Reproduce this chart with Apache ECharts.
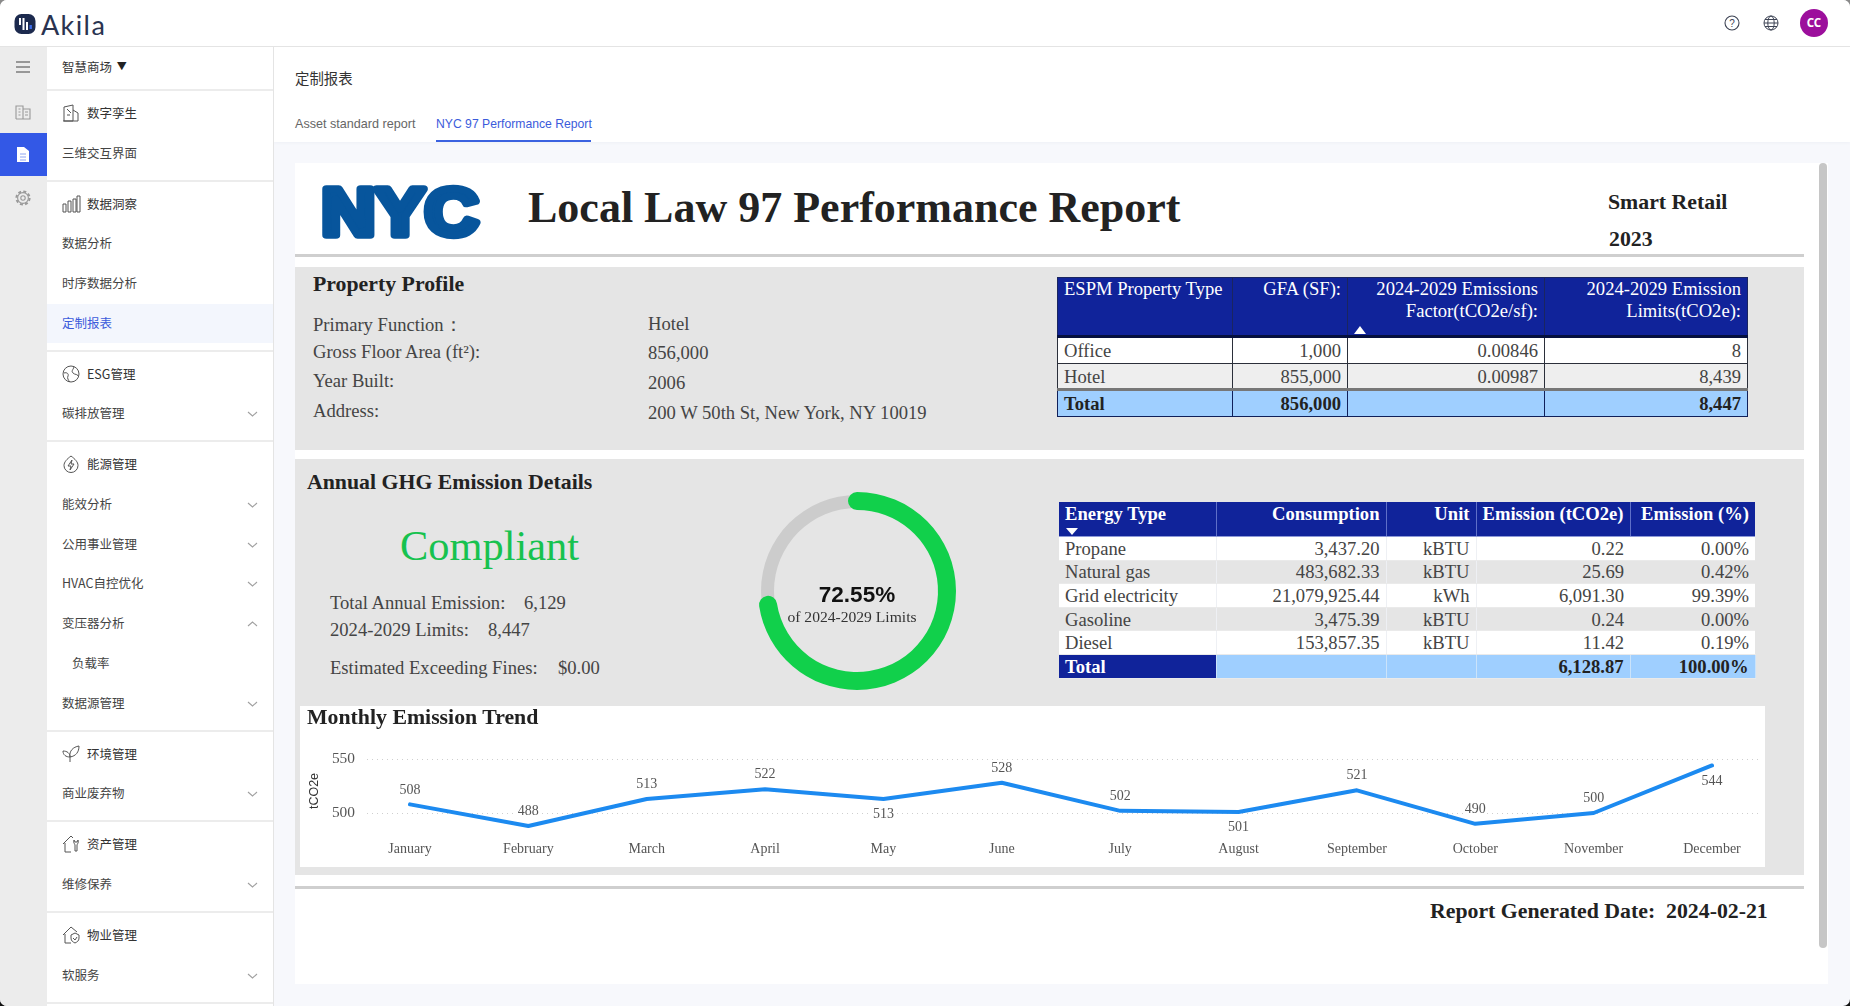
<!DOCTYPE html>
<html>
<head>
<meta charset="utf-8">
<title>NYC 97 Performance Report</title>
<script src="https://cdn.jsdelivr.net/npm/echarts@6/dist/echarts.min.js"></script>
<style>
html,body{margin:0;padding:0;width:1850px;height:1006px;overflow:hidden;background:linear-gradient(#8a8a8a 50%,#111 50%);}
#app{position:absolute;left:0;top:0;width:1850px;height:1006px;background:#f7f8fc;border-radius:7px;overflow:hidden;font-family:"Noto Sans CJK SC","Noto Sans",sans-serif;color:#444;}
.abs{position:absolute;}
.t{position:absolute;white-space:nowrap;line-height:1;transform:translateY(-50%);}
.serif,.serif *{font-family:"Liberation Serif",serif;}
.b{font-weight:bold;color:#222;}
.h{font-size:21.8px;}
.v{font-size:18.6px;color:#444;}
#top{left:0;top:0;width:1850px;height:47px;background:#fff;border-bottom:1px solid #e4e4e4;box-sizing:border-box;}
#rail{left:0;top:46px;width:47px;height:960px;background:#ececec;}
#railActive{left:0;top:133px;width:47px;height:43px;background:#3358e6;}
#menu{left:47px;top:46px;width:226px;height:960px;background:#fff;border-right:1px solid #e4e4e4;box-sizing:content-box;font-size:12.5px;}
.menuHead{height:43px;line-height:42px;padding-left:15px;border-bottom:2px solid #ececec;color:#333;}
.group{border-bottom:2px solid #ececec;padding:3px 0 6.3px;height:auto;}
.row{height:39.7px;line-height:38px;padding-left:15px;position:relative;color:#444;}
.row.ic{padding-left:40px;color:#333;}
.row.sub{padding-left:25px;}
.row.on{background:#f3f6fd;color:#3b5bdb;}
.row svg.i{position:absolute;left:15px;top:10px;}
.row svg.c{position:absolute;left:200px;top:16px;}
#head{left:274px;top:46px;width:1576px;height:96px;background:#fff;box-shadow:0 1px 3px #eef0f5;}
#card{left:295px;top:163px;width:1533px;height:821px;background:#fff;}
#scroll{left:1819px;top:163px;width:8px;height:785px;background:#c6c6c6;border-radius:4px;}
.rule{left:295px;width:1509px;height:3px;background:#cfcfcf;}
.sec{left:295px;width:1509px;background:#e5e5e5;}
table{border-collapse:collapse;table-layout:fixed;position:absolute;font-family:"Liberation Serif",serif;font-size:18.6px;color:#444;}
td,th{padding:0 6px;overflow:hidden;white-space:nowrap;text-align:right;line-height:22px;}
td:first-child,th:first-child{text-align:left;}
#tblType th{background:#10239a;color:#fff;font-weight:normal;vertical-align:top;padding-top:0;height:57px;border:1px solid #1a2560;border-bottom:3px solid #05103f;white-space:normal;position:relative;}
#tblType td{border:1px solid #2b2f3a;height:24.7px;background:#fff;line-height:21px;}
#tblType tr.alt td{background:#eeeeee;border-bottom:3px solid #777;}
#tblType tr.sum td{background:#9fcfff;font-weight:bold;color:#222;border:1.5px solid #10205a;}
#tblEnergy th{background:#10239a;color:#fff;font-weight:bold;vertical-align:top;height:33px;padding-top:1px;border-right:1px solid #5f6fc8;border-bottom:1px solid #8d99d8;}
#tblEnergy td{height:22.6px;background:#fff;border-right:1px solid #eef0f4;border-bottom:1px solid #eaeaea;line-height:21px;}
#tblEnergy td:last-child,#tblEnergy th:last-child{border-right:none;}
#tblEnergy tr.alt td{background:#e5e5e5;}
#tblEnergy td.np{border-right:none;}
#tblEnergy tr.sum td{background:#9fcfff;font-weight:bold;color:#222;border-right:1px solid #cbe3fa;}
#tblEnergy tr.sum td:first-child{background:#10239a;color:#fff;}
.tri{position:absolute;width:0;height:0;border-left:6px solid transparent;border-right:6px solid transparent;}
</style>
</head>
<body>
<div id="app">
  <div id="head" class="abs"></div>
  <div id="rail" class="abs"></div>
  <div id="railActive" class="abs"></div>
  <div id="menu" class="abs"></div>
  <div id="top" class="abs"></div>

  <!-- top bar -->
  <svg class="abs" style="left:14px;top:13px" width="24" height="23" viewBox="0 0 24 23">
    <rect x="0.5" y="1" width="21" height="20" rx="7" fill="#1c2a4e"/>
    <rect x="5" y="5" width="2" height="7" fill="#fff"/><rect x="8.5" y="5" width="2" height="12" fill="#fff"/>
    <rect x="12" y="9" width="2" height="8" fill="#fff"/><rect x="15.5" y="12" width="2.4" height="4" fill="#3b6bea"/>
  </svg>
  <div class="t" style="left:41px;top:24px;font:400 27px 'Lato',sans-serif;color:#2a3350;letter-spacing:1.4px">Akila</div>
  <svg class="abs" style="left:1724px;top:15px" width="16" height="16" viewBox="0 0 16 16"><circle cx="8" cy="8" r="7" fill="none" stroke="#3d4354" stroke-width="1.1"/><text x="8" y="11.5" text-anchor="middle" font-size="10" fill="#3d4354" font-family="Liberation Sans">?</text></svg>
  <svg class="abs" style="left:1763px;top:15px" width="16" height="16" viewBox="0 0 16 16" fill="none" stroke="#3d4354" stroke-width="1"><circle cx="8" cy="8" r="7"/><ellipse cx="8" cy="8" rx="3.2" ry="7"/><path d="M1 8H15M2 4.5H14M2 11.5H14"/></svg>
  <div class="abs" style="left:1800px;top:9px;width:28px;height:28px;border-radius:50%;background:#9c0f9c;color:#fff;font:bold 11.5px/28px 'Noto Sans',sans-serif;text-align:center">CC</div>

  <!-- rail icons -->
  <svg class="abs" style="left:16px;top:61px" width="14" height="12" stroke="#444" stroke-width="1.2"><path d="M0 1H14M0 6H14M0 11H14"/></svg>
  <svg class="abs" style="left:15px;top:104px" width="16" height="16" fill="none" stroke="#999" stroke-width="1.1"><path d="M1 15V2H8V15M8 5H15V15H1M3.5 5H5.5M3.5 8H5.5M3.5 11H5.5M10 8H13M10 11H13"/></svg>
  <svg class="abs" style="left:16px;top:146px" width="14" height="17"><path d="M1 1H8L13 5V16H1Z" fill="#fff"/><path d="M4 8H10M4 11H10M4 14H10" stroke="#8ea5f2" stroke-width="1"/></svg>
  <svg class="abs" style="left:15px;top:190px" width="16" height="16" fill="none" stroke="#999" stroke-width="1.1"><circle cx="8" cy="8" r="5.4"/><circle cx="8" cy="8" r="6.6" stroke-width="2" stroke-dasharray="3 2.2"/><circle cx="8" cy="8" r="2.2"/></svg>

  <!-- page header -->
  <div class="t" style="left:295px;top:78px;font-size:14.4px;color:#333">定制报表</div>
  <div class="t" style="left:295px;top:124px;font:12.6px 'Liberation Sans',sans-serif;color:#666">Asset standard report</div>
  <div class="t" style="left:436px;top:124px;font:12.2px 'Liberation Sans',sans-serif;color:#3b5bdb">NYC 97 Performance Report</div>
  <div class="abs" style="left:436px;top:140px;width:155px;height:2px;background:#3b62e0"></div>

  <div id="card" class="abs"></div>
  <div id="scroll" class="abs"></div>

  <!-- banner -->
  <svg class="abs" style="left:306px;top:170px;overflow:visible" width="190" height="84" viewBox="0 0 190 84">
    <text x="15.5" y="65" textLength="157" lengthAdjust="spacingAndGlyphs" font-family="Liberation Sans" font-weight="bold" font-size="66" fill="#07559c" stroke="#07559c" stroke-width="7.5" stroke-linejoin="round">NYC</text>
  </svg>
  <div class="t serif b" style="left:528px;top:208px;font-size:44px">Local Law 97 Performance Report</div>
  <div class="t serif b h" style="left:1608px;top:203px" id="building"></div>
  <div class="t serif b h" style="left:1609px;top:240px" id="year"></div>
  <div class="abs rule" style="top:254px"></div>

  <!-- property profile -->
  <div class="abs sec" style="top:267px;height:183px"></div>
  <div class="t serif b h" style="left:313px;top:285px">Property Profile</div>
  <div id="profile" class="serif"></div>
  <table id="tblType" style="left:1057px;top:277px;width:690px"></table>
  <div class="tri" style="left:1354px;top:326px;border-bottom:8px solid #fff"></div>

  <!-- GHG section -->
  <div class="abs sec" style="top:459px;height:416px"></div>
  <div class="t serif b h" style="left:307px;top:483px">Annual GHG Emission Details</div>
  <div class="t serif" style="left:400px;top:546px;font-size:42.4px;color:#17c24f">Compliant</div>
  <div id="summary" class="serif"></div>
  <div id="ring" class="abs" style="left:737px;top:471px;width:240px;height:240px"></div>
  <table id="tblEnergy" style="left:1059px;top:502px;width:696px"></table>
  <div class="tri" style="left:1066px;top:528px;border-top:7px solid #fff"></div>

  <!-- trend panel -->
  <div class="abs" style="left:300px;top:706px;width:1465px;height:161px;background:#fff"></div>
  <div id="trend" class="abs" style="left:300px;top:706px;width:1465px;height:161px"></div>
  <div class="t serif b h" style="left:307px;top:718px">Monthly Emission Trend</div>

  <div class="abs rule" style="top:886px"></div>
  <div class="t serif b h" style="left:1430px;top:912px;white-space:pre">Report Generated Date:  2024-02-21</div>
</div>

<script>
// ----- menu -----
const menuGroups = [
    [['building', '数字孪生'], ['', '三维交互界面']],
    [['bars', '数据洞察'], ['', '数据分析'], ['', '时序数据分析'], ['', '定制报表', 'on']],
    [['globe', 'ESG管理'], ['', '碳排放管理', 'down']],
    [['bolt', '能源管理'], ['', '能效分析', 'down'], ['', '公用事业管理', 'down'], ['', 'HVAC自控优化', 'down'], ['', '变压器分析', 'up'], ['', '负载率', 'sub'], ['', '数据源管理', 'down']],
    [['leaf', '环境管理'], ['', '商业废弃物', 'down']],
    [['wrench', '资产管理'], ['', '维修保养', 'down']],
    [['shield', '物业管理'], ['', '软服务', 'down']]
];

// ----- property profile -----
const buildingName = 'Smart Retail';
const reportYear = '2023';
const profileLabels = ['Primary Function：', 'Gross Floor Area (ft²):', 'Year Built:', 'Address:'];
const profileValues = ['Hotel', '856,000', '2006', '200 W 50th St, New York, NY 10019'];

const typeHeaders = ['ESPM Property Type', 'GFA (SF):', '2024-2029 Emissions Factor(tCO2e/sf):', '2024-2029 Emission Limits(tCO2e):'];
const typeRows = [
    ['Office', '1,000', '0.00846', '8'],
    ['Hotel', '855,000', '0.00987', '8,439']
];
const typeTotal = ['Total', '856,000', '', '8,447'];

// ----- emission details -----
const summaryLabels = ['Total Annual Emission:', '2024-2029 Limits:', 'Estimated Exceeding Fines:'];
const summaryValues = ['6,129', '8,447', '$0.00'];
const limitUsedPct = 72.55;

const energyHeaders = ['Energy Type', 'Consumption', 'Unit', 'Emission (tCO2e)', 'Emission (%)'];
const energyRows = [
    ['Propane', '3,437.20', 'kBTU', '0.22', '0.00%'],
    ['Natural gas', '483,682.33', 'kBTU', '25.69', '0.42%'],
    ['Grid electricity', '21,079,925.44', 'kWh', '6,091.30', '99.39%'],
    ['Gasoline', '3,475.39', 'kBTU', '0.24', '0.00%'],
    ['Diesel', '153,857.35', 'kBTU', '11.42', '0.19%']
];
const energyTotal = ['Total', '', '', '6,128.87', '100.00%'];

// ----- monthly trend -----
const months = ['January', 'February', 'March', 'April', 'May', 'June', 'July', 'August', 'September', 'October', 'November', 'December'];
const monthlyEmission = [508, 488, 513, 522, 513, 528, 502, 501, 521, 490, 500, 544];
const labelBelow = ['May', 'August', 'December'];

const icons = {
    building: '<path d="M2 17V3L11 1V17ZM11 6L16 9V17H1M5 5L9 9M5 11H8"/>',
    bars: '<path d="M1 17V9H4V17ZM6 17V6H9V17ZM11 17V4H14V17ZM15 17V1H18V17Z"/>',
    globe: '<circle cx="9" cy="9" r="8"/><path d="M2 8C5 7 7 9 6 11S6 15 8 17M12 2C11 5 9 6 11 8S16 9 16 11"/>',
    bolt: '<path d="M9 1C13 4 16 7 16 10.5A7 7 0 0 1 2 10.5C2 7 5 4 9 1ZM10 5L6 11H9L8 15L12 9H9Z"/>',
    leaf: '<path d="M8 12C7 6 11 2 17 1C17 7 14 11 8 12ZM8 12C8 8 5 6 1 6C1 10 4 12 8 12ZM8 12V17"/>',
    wrench: '<path d="M1 9L9 1L11 3M3 8V17H9M12 5C11 8 13 9 13 10V16H15V10C15 9 17 8 16 5L15 7H13Z"/>',
    shield: '<path d="M1 9L9 1L15 6M3 8V17H9M9 9L13 7L17 9V12C17 15 15 16 13 17C11 16 9 15 9 12ZM11 12L13 14L15 11"/>'
};

function chevron(dir) {
    const d = dir === 'up' ? 'M1 6L5.5 2L10 6' : 'M1 2L5.5 6L10 2';
    return `<svg class="c" width="11" height="8" fill="none" stroke="#a0a0a0" stroke-width="1.1"><path d="${d}"/></svg>`;
}

function buildMenu() {
    let html = '<div class="menuHead">智慧商场 <span style="font-size:10px;position:relative;top:-2px;left:2px;color:#222">▼</span></div>';
    menuGroups.forEach(g => {
        html += '<div class="group">';
        g.forEach(([icon, label, flag]) => {
            let cls = 'row';
            if (icon) cls += ' ic';
            if (flag === 'on') cls += ' on';
            if (flag === 'sub') cls += ' sub';
            html += `<div class="${cls}">`;
            if (icon) html += `<svg class="i" width="19" height="19" viewBox="0 0 19 19" fill="none" stroke="#555" stroke-width="1">${icons[icon]}</svg>`;
            html += label;
            if (flag === 'down' || flag === 'up') html += chevron(flag);
            html += '</div>';
        });
        html += '</div>';
    });
    document.getElementById('menu').innerHTML = html;
}

function placeText(parentId, items) {
    document.getElementById(parentId).innerHTML = items
        .map(([text, x, y]) => `<div class="t v" style="left:${x}px;top:${y}px">${text}</div>`).join('');
}

function buildTypeTable() {
    const widths = [175, 115, 197, 203];
    let html = '<colgroup>' + widths.map(w => `<col style="width:${w}px">`).join('') + '</colgroup>';
    html += '<tr>' + typeHeaders.map(h => `<th>${h}</th>`).join('') + '</tr>';
    typeRows.forEach((r, i) => {
        html += `<tr class="${i % 2 ? 'alt' : ''}">` + r.map(c => `<td>${c}</td>`).join('') + '</tr>';
    });
    html += '<tr class="sum">' + typeTotal.map(c => `<td>${c}</td>`).join('') + '</tr>';
    document.getElementById('tblType').innerHTML = html;
}

function buildEnergyTable() {
    const widths = [157, 170, 90, 154, 125];
    let html = '<colgroup>' + widths.map(w => `<col style="width:${w}px">`).join('') + '</colgroup>';
    html += '<tr>' + energyHeaders.map(h => `<th>${h}</th>`).join('') + '</tr>';
    energyRows.forEach((r, i) => {
        html += `<tr class="${i % 2 ? 'alt' : ''}">` + r.map((c, k) => `<td class="${k === 3 ? 'np' : ''}">${c}</td>`).join('') + '</tr>';
    });
    html += '<tr class="sum">' + energyTotal.map(c => `<td>${c}</td>`).join('') + '</tr>';
    document.getElementById('tblEnergy').innerHTML = html;
}

buildMenu();
document.getElementById('building').textContent = buildingName;
document.getElementById('year').textContent = reportYear;
placeText('profile', [
    [profileLabels[0], 313, 325], [profileLabels[1], 313, 352], [profileLabels[2], 313, 381], [profileLabels[3], 313, 411],
    [profileValues[0], 648, 324], [profileValues[1], 648, 353], [profileValues[2], 648, 383], [profileValues[3], 648, 413]
]);
placeText('summary', [
    [summaryLabels[0], 330, 603], [summaryValues[0], 524, 603],
    [summaryLabels[1], 330, 630], [summaryValues[1], 488, 630],
    [summaryLabels[2], 330, 668], [summaryValues[2], 558, 668]
]);
buildTypeTable();
buildEnergyTable();

// ----- limit ring -----
const ringChart = echarts.init(document.getElementById('ring'));
ringChart.setOption({
    animation: false,
    series: [
        {
            type: 'gauge', radius: 96, center: ['50%', '50%'],
            startAngle: 90, endAngle: -270, min: 0, max: 100,
            axisLine: { lineStyle: { width: 13, color: [[1, '#cccccc']] } },
            pointer: { show: false }, axisTick: { show: false }, splitLine: { show: false }, axisLabel: { show: false },
            title: { show: false }, detail: { show: false },
            data: [{ value: 0 }]
        },
        {
            type: 'gauge', radius: 99, center: ['50%', '50%'],
            startAngle: 90, endAngle: -270, min: 0, max: 100,
            axisLine: { show: false },
            progress: { show: true, width: 18, roundCap: true, itemStyle: { color: '#11d04b' } },
            pointer: { show: false }, axisTick: { show: false }, splitLine: { show: false }, axisLabel: { show: false },
            title: {
                offsetCenter: [-5, 27],
                fontFamily: 'Liberation Serif', fontSize: 15.6, color: '#333'
            },
            detail: {
                offsetCenter: [0, 5],
                formatter: '{value}%',
                fontFamily: 'Liberation Sans', fontWeight: 'bold', fontSize: 22.5, color: '#111'
            },
            data: [{ value: limitUsedPct, name: 'of 2024-2029 Limits' }]
        }
    ]
});

// ----- monthly line -----
const trendChart = echarts.init(document.getElementById('trend'));
const serifLabel = { fontFamily: 'Liberation Serif', color: '#555', fontSize: 14 };
trendChart.setOption({
    animation: false,
    grid: [
        { left: 110, right: 53, top: 53, height: 108 },
        { left: 63, right: 6, top: 53, height: 108 }
    ],
    xAxis: [
        {
            type: 'category', gridIndex: 0, data: months, boundaryGap: false, offset: -31,
            axisLine: { show: false }, axisTick: { show: false },
            axisLabel: Object.assign({}, serifLabel, { margin: 6, interval: 0 })
        },
        { type: 'value', gridIndex: 1, show: false }
    ],
    yAxis: [
        { type: 'value', gridIndex: 0, min: 450, max: 550, interval: 50, show: false },
        {
            type: 'value', gridIndex: 1, min: 450, max: 550, interval: 50,
            name: 'tCO2e', nameLocation: 'middle', nameGap: 41,
            nameTextStyle: { fontFamily: 'Liberation Sans', fontSize: 12.5, color: '#333', padding: [0, 0, 0, 44] },
            axisLine: { show: false }, axisTick: { show: false },
            axisLabel: { fontFamily: 'Liberation Serif', color: '#555', fontSize: 15.4, margin: 12, showMinLabel: false },
            splitLine: { showMinLine: false, lineStyle: { color: '#cfcfcf', type: [1, 4], width: 1 } }
        }
    ],
    series: [{
        type: 'line', xAxisIndex: 0, yAxisIndex: 0,
        showSymbol: true, showAllSymbol: true, symbol: 'circle', symbolSize: 1,
        itemStyle: { color: '#1c8af0' },
        lineStyle: { color: '#1c8af0', width: 4, cap: 'round', join: 'round' },
        label: Object.assign({ show: true, backgroundColor: '#fff', padding: [0, 1] }, serifLabel),
        data: monthlyEmission.map((v, i) => {
            const below = labelBelow.includes(months[i]);
            return { value: v, label: { position: below ? 'bottom' : 'top', distance: below ? 8 : 7 } };
        })
    }]
});
</script>
</body>
</html>
